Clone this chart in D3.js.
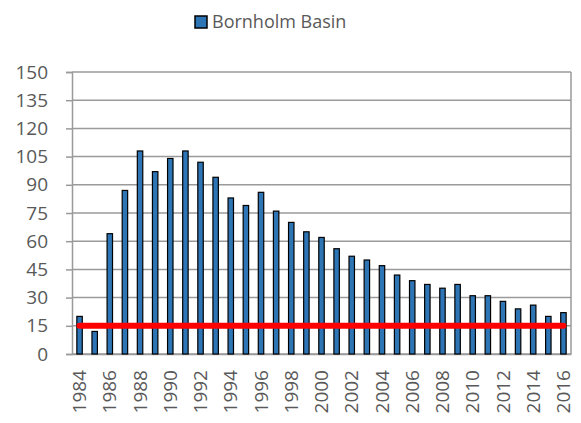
<!DOCTYPE html>
<html>
<head>
<meta charset="utf-8">
<script src="https://cdn.jsdelivr.net/npm/d3@7"></script>
<style>
  html, body { margin: 0; padding: 0; background: #fff; }
  svg text { font-family: 'Open Sans', 'DejaVu Sans', sans-serif; fill: #595959; }
</style>
</head>
<body>
<div id="chart"></div>
<script>
// ─── Data ───────────────────────────────────────────────────────
const years = d3.range(1984, 2017).map(String);
const basinValues = [20, 12, 64, 87, 108, 97, 104, 108, 102, 94, 83,
                     79, 86, 76, 70, 65, 62, 56, 52, 50, 47, 42,
                     39, 37, 35, 37, 31, 31, 28, 24, 26, 20, 22];
const thresholdValues = years.map(() => 15);
const yTicks = [0, 15, 30, 45, 60, 75, 90, 105, 120, 135, 150];
const xLabels = years.filter((y, i) => i % 2 === 0);
const seriesName = 'Bornholm Basin';

// ─── Layout ─────────────────────────────────────────────────────
const width = 581, height = 423;
const margin = { top: 72, right: 10, bottom: 69, left: 72 };
const w = width - margin.left - margin.right;
const h = height - margin.top - margin.bottom;

const svg = d3.select('#chart').append('svg')
    .attr('width', width)
    .attr('height', height);

const g = svg.append('g')
    .attr('transform', `translate(${margin.left},${margin.top})`);

const x = d3.scaleBand().domain(years).range([0, w]).paddingInner(0.64).paddingOuter(0.32);
const y = d3.scaleLinear().domain([0, 150]).range([h, 0]);

const gridColor = '#9a9a9a';

// ── Gridlines ───────────────────────────────────────────────────
g.append('g')
    .selectAll('line')
    .data(yTicks)
    .join('line')
    .attr('x1', 0).attr('x2', w)
    .attr('y1', d => y(d)).attr('y2', d => y(d))
    .attr('stroke', gridColor)
    .attr('stroke-width', 1.5);

// right border
g.append('line')
    .attr('x1', w).attr('x2', w)
    .attr('y1', 0).attr('y2', h)
    .attr('stroke', gridColor)
    .attr('stroke-width', 1.5);

// ── Y axis ──────────────────────────────────────────────────────
const yAxis = g.append('g')
    .call(d3.axisLeft(y).tickValues(yTicks).tickSize(6).tickPadding(18));
yAxis.select('.domain').attr('stroke', gridColor).attr('stroke-width', 1.5);
yAxis.selectAll('.tick line').attr('stroke', gridColor).attr('stroke-width', 1.5);
yAxis.selectAll('.tick text')
    .attr('font-size', 19)
    .attr('fill', '#595959')
    .style('font-family', "'Open Sans', sans-serif");

// ── X axis ──────────────────────────────────────────────────────
const xAxis = g.append('g')
    .attr('transform', `translate(0,${h})`)
    .call(d3.axisBottom(x).tickValues(xLabels).tickSize(0).tickPadding(0));
xAxis.select('.domain').attr('stroke', gridColor).attr('stroke-width', 1.5);
xAxis.selectAll('.tick text')
    .attr('font-size', 19)
    .attr('fill', '#595959')
    .style('font-family', "'Open Sans', sans-serif")
    .attr('text-anchor', 'end')
    .attr('transform', 'rotate(-90)')
    .attr('x', -16)
    .attr('y', 0)
    .attr('dy', '0.35em');

// ── Bars ────────────────────────────────────────────────────────
g.selectAll('.bar')
    .data(basinValues)
    .join('rect')
    .attr('class', 'bar')
    .attr('x', (d, i) => x(years[i]))
    .attr('y', d => y(d))
    .attr('width', x.bandwidth())
    .attr('height', d => h - y(d))
    .attr('fill', '#2e75b6')
    .attr('stroke', '#000')
    .attr('stroke-width', 1.2);

// ── Threshold line ──────────────────────────────────────────────
const line = d3.line()
    .x((d, i) => x(years[i]) + x.bandwidth() / 2)
    .y(d => y(d));

g.append('path')
    .datum(thresholdValues)
    .attr('d', line)
    .attr('fill', 'none')
    .attr('stroke', '#ff0000')
    .attr('stroke-width', 6)
    .attr('stroke-linecap', 'round');

// ── Legend ──────────────────────────────────────────────────────
const legend = svg.append('g');
legend.append('rect')
    .attr('x', 195).attr('y', 16)
    .attr('width', 12).attr('height', 12)
    .attr('fill', '#2e75b6')
    .attr('stroke', '#000')
    .attr('stroke-width', 1.5);
legend.append('text')
    .attr('x', 212).attr('y', 22)
    .attr('dy', '0.35em')
    .attr('font-size', 18)
    .text(seriesName);
</script>
</body>
</html>
